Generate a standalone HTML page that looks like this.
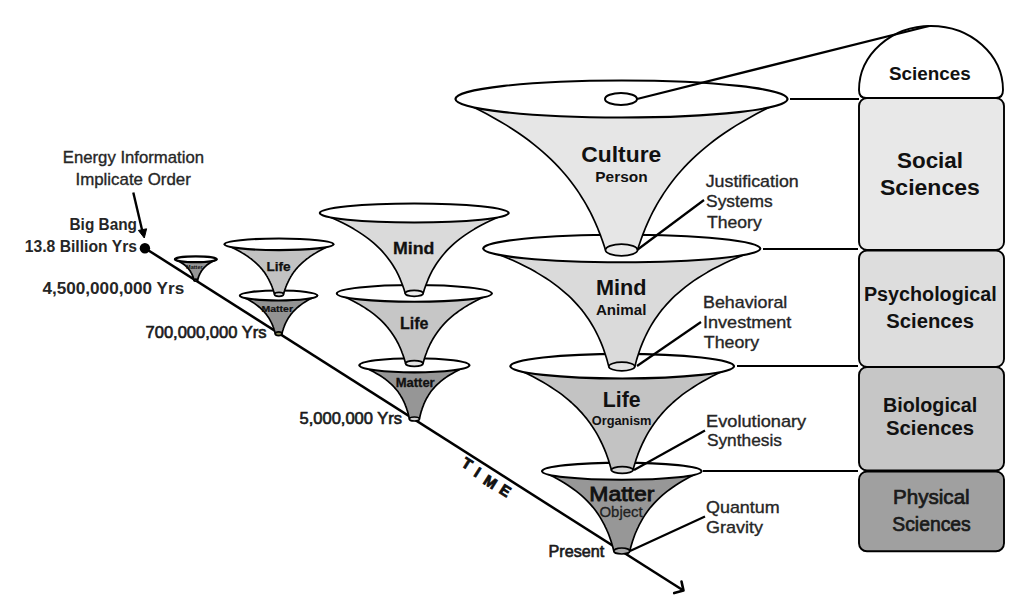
<!DOCTYPE html>
<html><head><meta charset="utf-8"><style>
html,body{margin:0;padding:0;background:#fff;width:1024px;height:604px;overflow:hidden}
svg{display:block;font-family:"Liberation Sans",sans-serif}
</style></head><body>
<svg width="1024" height="604" viewBox="0 0 1024 604">
<line x1="145" y1="248.2" x2="683" y2="590.3" stroke="#000" stroke-width="2.5"/>
<polyline points="674.2,593.1 683.5,590.6 681.5,581.5" fill="none" stroke="#000" stroke-width="2.6" stroke-linecap="round" stroke-linejoin="round"/>
<circle cx="144.9" cy="248.2" r="5.2" fill="#000"/>
<line x1="133.3" y1="192.5" x2="142.3" y2="231" stroke="#000" stroke-width="2.4"/>
<polygon points="138.4,230.4 144.3,238 146.6,228.8" fill="#000" stroke="#000" stroke-width="1" stroke-linejoin="round"/>
<path d="M174.9,259.3 L176.0,259.8 L177.1,260.3 L178.2,260.9 L179.1,261.4 L180.1,261.9 L180.9,262.4 L181.8,263.0 L182.5,263.5 L183.3,264.0 L184.0,264.5 L184.7,265.0 L185.3,265.6 L185.9,266.1 L186.4,266.6 L187.0,267.1 L187.5,267.7 L187.9,268.2 L188.4,268.7 L188.8,269.2 L189.2,269.8 L189.6,270.3 L190.0,270.8 L190.3,271.3 L190.6,271.8 L190.9,272.4 L191.2,272.9 L191.5,273.4 L191.8,273.9 L192.0,274.5 L192.3,275.0 L192.5,275.5 L192.7,276.0 L192.9,276.5 L193.1,277.1 L193.2,277.6 L193.4,278.1 L193.6,278.6 L193.7,279.2 L193.9,279.7 L194.0,280.2 L197.6,280.2 L197.7,279.7 L197.9,279.2 L198.0,278.6 L198.2,278.1 L198.4,277.6 L198.5,277.1 L198.7,276.5 L198.9,276.0 L199.1,275.5 L199.3,275.0 L199.6,274.5 L199.8,273.9 L200.1,273.4 L200.4,272.9 L200.7,272.4 L201.0,271.8 L201.3,271.3 L201.6,270.8 L202.0,270.3 L202.4,269.8 L202.8,269.2 L203.2,268.7 L203.7,268.2 L204.1,267.7 L204.6,267.1 L205.2,266.6 L205.7,266.1 L206.3,265.6 L206.9,265.0 L207.6,264.5 L208.3,264.0 L209.1,263.5 L209.8,263.0 L210.7,262.4 L211.5,261.9 L212.5,261.4 L213.4,260.9 L214.5,260.3 L215.6,259.8 L216.7,259.3 Z" fill="#959595" stroke="#000" stroke-width="1.76" stroke-linejoin="round"/>
<ellipse cx="195.8" cy="259.3" rx="20.9" ry="2.9" fill="#fff" stroke="#000" stroke-width="2.2"/>
<ellipse cx="195.8" cy="280.2" rx="1.8" ry="1" fill="#a0a0a0" stroke="#000" stroke-width="1.76"/>
<text x="186" y="269.4" font-size="6" font-weight="bold" fill="#111" textLength="16.7" lengthAdjust="spacingAndGlyphs">Matter</text>
<path d="M239.8,295.5 L241.9,296.5 L244.0,297.4 L245.9,298.4 L247.7,299.3 L249.4,300.3 L251.0,301.2 L252.6,302.2 L254.0,303.1 L255.4,304.1 L256.7,305.1 L257.9,306.0 L259.1,307.0 L260.2,307.9 L261.2,308.9 L262.2,309.8 L263.2,310.8 L264.1,311.7 L264.9,312.7 L265.7,313.6 L266.4,314.6 L267.1,315.6 L267.8,316.5 L268.5,317.5 L269.1,318.4 L269.6,319.4 L270.2,320.3 L270.7,321.3 L271.2,322.2 L271.6,323.2 L272.1,324.1 L272.5,325.1 L272.9,326.1 L273.2,327.0 L273.6,328.0 L273.9,328.9 L274.2,329.9 L274.5,330.8 L274.8,331.8 L275.0,332.7 L275.3,333.7 L281.9,333.7 L282.2,332.7 L282.4,331.8 L282.7,330.8 L283.0,329.9 L283.3,328.9 L283.6,328.0 L284.0,327.0 L284.3,326.1 L284.7,325.1 L285.1,324.1 L285.6,323.2 L286.0,322.2 L286.5,321.3 L287.0,320.3 L287.6,319.4 L288.1,318.4 L288.7,317.5 L289.4,316.5 L290.1,315.6 L290.8,314.6 L291.5,313.6 L292.3,312.7 L293.1,311.7 L294.0,310.8 L295.0,309.8 L296.0,308.9 L297.0,307.9 L298.1,307.0 L299.3,306.0 L300.5,305.1 L301.8,304.1 L303.2,303.1 L304.6,302.2 L306.2,301.2 L307.8,300.3 L309.5,299.3 L311.3,298.4 L313.2,297.4 L315.3,296.5 L317.4,295.5 Z" fill="#939393" stroke="#000" stroke-width="1.68" stroke-linejoin="round"/>
<ellipse cx="278.6" cy="295.5" rx="38.8" ry="5" fill="#fff" stroke="#000" stroke-width="2.1"/>
<ellipse cx="278.6" cy="333.7" rx="3.3" ry="1.9" fill="#8a8a5a" stroke="#000" stroke-width="1.68"/>
<text x="261.6" y="311.7" font-size="8.5" font-weight="bold" fill="#111" stroke="#111" stroke-width="0.2" textLength="31.4" lengthAdjust="spacingAndGlyphs">Matter</text>
<path d="M224.5,244.3 L227.5,245.6 L230.4,246.8 L233.1,248.1 L235.6,249.3 L238.0,250.6 L240.3,251.8 L242.5,253.1 L244.5,254.3 L246.5,255.6 L248.3,256.8 L250.0,258.1 L251.7,259.3 L253.2,260.6 L254.7,261.8 L256.1,263.1 L257.4,264.3 L258.7,265.6 L259.8,266.8 L261.0,268.1 L262.0,269.3 L263.0,270.6 L264.0,271.8 L264.9,273.1 L265.7,274.3 L266.5,275.6 L267.3,276.8 L268.0,278.1 L268.7,279.3 L269.3,280.6 L269.9,281.8 L270.5,283.1 L271.1,284.3 L271.6,285.6 L272.1,286.8 L272.5,288.1 L273.0,289.3 L273.4,290.6 L273.8,291.8 L274.1,293.1 L274.5,294.3 L283.5,294.3 L283.9,293.1 L284.2,291.8 L284.6,290.6 L285.0,289.3 L285.5,288.1 L285.9,286.8 L286.4,285.6 L286.9,284.3 L287.5,283.1 L288.1,281.8 L288.7,280.6 L289.3,279.3 L290.0,278.1 L290.7,276.8 L291.5,275.6 L292.3,274.3 L293.1,273.1 L294.0,271.8 L295.0,270.6 L296.0,269.3 L297.0,268.1 L298.2,266.8 L299.3,265.6 L300.6,264.3 L301.9,263.1 L303.3,261.8 L304.8,260.6 L306.3,259.3 L308.0,258.1 L309.7,256.8 L311.5,255.6 L313.5,254.3 L315.5,253.1 L317.7,251.8 L320.0,250.6 L322.4,249.3 L324.9,248.1 L327.6,246.8 L330.5,245.6 L333.5,244.3 Z" fill="#c2c2c2" stroke="#000" stroke-width="1.68" stroke-linejoin="round"/>
<ellipse cx="279" cy="244.3" rx="54.5" ry="5.8" fill="#fff" stroke="#000" stroke-width="2.1"/>
<ellipse cx="279" cy="294.3" rx="4.5" ry="2" fill="#dcdcdc" stroke="#000" stroke-width="1.68"/>
<text x="266.4" y="270.9" font-size="12.4" font-weight="bold" fill="#111" stroke="#111" stroke-width="0.25" textLength="24.2" lengthAdjust="spacingAndGlyphs">Life</text>
<path d="M359.4,365.3 L362.7,366.6 L365.8,368.0 L368.7,369.3 L371.4,370.7 L374.0,372.0 L376.4,373.4 L378.7,374.7 L380.8,376.0 L382.8,377.4 L384.7,378.7 L386.5,380.1 L388.1,381.4 L389.7,382.8 L391.2,384.1 L392.5,385.4 L393.8,386.8 L395.0,388.1 L396.2,389.5 L397.3,390.8 L398.3,392.1 L399.2,393.5 L400.1,394.8 L400.9,396.2 L401.7,397.5 L402.5,398.9 L403.1,400.2 L403.8,401.5 L404.4,402.9 L405.0,404.2 L405.5,405.6 L406.0,406.9 L406.5,408.3 L406.9,409.6 L407.4,410.9 L407.8,412.3 L408.1,413.6 L408.5,415.0 L408.8,416.3 L409.1,417.7 L409.4,419.0 L419.4,419.0 L419.7,417.7 L420.0,416.3 L420.3,415.0 L420.7,413.6 L421.0,412.3 L421.4,410.9 L421.9,409.6 L422.3,408.3 L422.8,406.9 L423.3,405.6 L423.8,404.2 L424.4,402.9 L425.0,401.5 L425.7,400.2 L426.3,398.9 L427.1,397.5 L427.9,396.2 L428.7,394.8 L429.6,393.5 L430.5,392.1 L431.5,390.8 L432.6,389.5 L433.8,388.1 L435.0,386.8 L436.3,385.4 L437.6,384.1 L439.1,382.8 L440.7,381.4 L442.3,380.1 L444.1,378.7 L446.0,377.4 L448.0,376.0 L450.1,374.7 L452.4,373.4 L454.8,372.0 L457.4,370.7 L460.1,369.3 L463.0,368.0 L466.1,366.6 L469.4,365.3 Z" fill="#969696" stroke="#000" stroke-width="1.68" stroke-linejoin="round"/>
<ellipse cx="414.4" cy="365.3" rx="55" ry="7.1" fill="#fff" stroke="#000" stroke-width="2.1"/>
<ellipse cx="414.4" cy="419" rx="5" ry="2" fill="#d0d0d0" stroke="#000" stroke-width="1.68"/>
<text x="395.7" y="387.4" font-size="12.3" font-weight="bold" fill="#111" stroke="#111" stroke-width="0.3" textLength="39" lengthAdjust="spacingAndGlyphs">Matter</text>
<path d="M336.8,293.4 L340.9,295.2 L344.9,296.9 L348.6,298.7 L352.1,300.4 L355.4,302.2 L358.5,303.9 L361.5,305.7 L364.3,307.4 L367.0,309.2 L369.5,310.9 L371.9,312.7 L374.2,314.4 L376.3,316.2 L378.3,317.9 L380.3,319.7 L382.1,321.4 L383.8,323.2 L385.4,324.9 L387.0,326.7 L388.4,328.4 L389.8,330.2 L391.1,332.0 L392.3,333.7 L393.5,335.5 L394.6,337.2 L395.7,339.0 L396.6,340.7 L397.6,342.5 L398.5,344.2 L399.3,346.0 L400.1,347.7 L400.9,349.5 L401.6,351.2 L402.2,353.0 L402.9,354.7 L403.5,356.5 L404.1,358.2 L404.6,360.0 L405.1,361.7 L405.6,363.5 L423.0,363.5 L423.5,361.7 L424.0,360.0 L424.5,358.2 L425.1,356.5 L425.7,354.7 L426.4,353.0 L427.0,351.2 L427.7,349.5 L428.5,347.7 L429.3,346.0 L430.1,344.2 L431.0,342.5 L432.0,340.7 L432.9,339.0 L434.0,337.2 L435.1,335.5 L436.3,333.7 L437.5,332.0 L438.8,330.2 L440.2,328.4 L441.6,326.7 L443.2,324.9 L444.8,323.2 L446.5,321.4 L448.3,319.7 L450.3,317.9 L452.3,316.2 L454.4,314.4 L456.7,312.7 L459.1,310.9 L461.6,309.2 L464.3,307.4 L467.1,305.7 L470.1,303.9 L473.2,302.2 L476.5,300.4 L480.0,298.7 L483.7,296.9 L487.7,295.2 L491.8,293.4 Z" fill="#c6c6c6" stroke="#000" stroke-width="1.68" stroke-linejoin="round"/>
<ellipse cx="414.3" cy="293.4" rx="77.5" ry="8.4" fill="#fff" stroke="#000" stroke-width="2.1"/>
<ellipse cx="414.3" cy="363.5" rx="8.7" ry="2.9" fill="#e4e4e4" stroke="#000" stroke-width="1.68"/>
<text x="400" y="329" font-size="16.5" font-weight="bold" fill="#111" stroke="#111" stroke-width="0.3" textLength="28.5" lengthAdjust="spacingAndGlyphs">Life</text>
<path d="M319.8,213.0 L324.9,215.0 L329.8,217.0 L334.4,219.0 L338.8,221.0 L342.9,223.0 L346.8,225.0 L350.5,227.1 L354.0,229.1 L357.3,231.1 L360.4,233.1 L363.4,235.1 L366.2,237.1 L368.9,239.1 L371.4,241.1 L373.8,243.1 L376.0,245.1 L378.1,247.1 L380.2,249.1 L382.1,251.1 L383.9,253.2 L385.6,255.2 L387.2,257.2 L388.7,259.2 L390.2,261.2 L391.6,263.2 L392.9,265.2 L394.1,267.2 L395.3,269.2 L396.4,271.2 L397.4,273.2 L398.4,275.2 L399.3,277.2 L400.2,279.2 L401.0,281.3 L401.8,283.3 L402.6,285.3 L403.3,287.3 L404.0,289.3 L404.6,291.3 L405.2,293.3 L423.2,293.3 L423.8,291.3 L424.4,289.3 L425.1,287.3 L425.8,285.3 L426.6,283.3 L427.4,281.3 L428.2,279.2 L429.1,277.2 L430.0,275.2 L431.0,273.2 L432.0,271.2 L433.1,269.2 L434.3,267.2 L435.5,265.2 L436.8,263.2 L438.2,261.2 L439.7,259.2 L441.2,257.2 L442.8,255.2 L444.5,253.2 L446.3,251.1 L448.2,249.1 L450.3,247.1 L452.4,245.1 L454.6,243.1 L457.0,241.1 L459.5,239.1 L462.2,237.1 L465.0,235.1 L468.0,233.1 L471.1,231.1 L474.4,229.1 L477.9,227.1 L481.6,225.0 L485.5,223.0 L489.6,221.0 L494.0,219.0 L498.6,217.0 L503.5,215.0 L508.6,213.0 Z" fill="#dadada" stroke="#000" stroke-width="1.68" stroke-linejoin="round"/>
<ellipse cx="414.2" cy="213" rx="94.4" ry="9.5" fill="#fff" stroke="#000" stroke-width="2.1"/>
<ellipse cx="414.2" cy="293.3" rx="9" ry="3" fill="#ececec" stroke="#000" stroke-width="1.68"/>
<text x="393" y="254.2" font-size="16.8" font-weight="bold" fill="#111" stroke="#111" stroke-width="0.3" textLength="41.4" lengthAdjust="spacingAndGlyphs">Mind</text>
<path d="M542.1,471.2 L546.4,473.2 L550.5,475.2 L554.4,477.2 L558.0,479.2 L561.5,481.2 L564.8,483.2 L567.9,485.2 L570.8,487.2 L573.6,489.2 L576.2,491.1 L578.7,493.1 L581.1,495.1 L583.3,497.1 L585.4,499.1 L587.4,501.1 L589.3,503.1 L591.1,505.1 L592.8,507.1 L594.4,509.1 L595.9,511.1 L597.3,513.1 L598.7,515.1 L600.0,517.1 L601.2,519.1 L602.3,521.1 L603.4,523.1 L604.5,525.1 L605.4,527.1 L606.4,529.1 L607.2,531.0 L608.1,533.0 L608.9,535.0 L609.6,537.0 L610.3,539.0 L611.0,541.0 L611.6,543.0 L612.2,545.0 L612.8,547.0 L613.3,549.0 L613.8,551.0 L629.8,551.0 L630.3,549.0 L630.8,547.0 L631.4,545.0 L632.0,543.0 L632.6,541.0 L633.3,539.0 L634.0,537.0 L634.7,535.0 L635.5,533.0 L636.4,531.0 L637.2,529.1 L638.2,527.1 L639.1,525.1 L640.2,523.1 L641.3,521.1 L642.4,519.1 L643.6,517.1 L644.9,515.1 L646.3,513.1 L647.7,511.1 L649.2,509.1 L650.8,507.1 L652.5,505.1 L654.3,503.1 L656.2,501.1 L658.2,499.1 L660.3,497.1 L662.5,495.1 L664.9,493.1 L667.4,491.1 L670.0,489.2 L672.8,487.2 L675.7,485.2 L678.8,483.2 L682.1,481.2 L685.6,479.2 L689.2,477.2 L693.1,475.2 L697.2,473.2 L701.5,471.2 Z" fill="#979797" stroke="#000" stroke-width="1.68" stroke-linejoin="round"/>
<ellipse cx="621.8" cy="471.2" rx="79.7" ry="8.6" fill="#fff" stroke="#000" stroke-width="2.1"/>
<ellipse cx="621.8" cy="551" rx="8" ry="3" fill="#a8a8a8" stroke="#000" stroke-width="1.68"/>
<path d="M510.4,366.2 L516.5,368.8 L522.2,371.4 L527.7,374.0 L532.8,376.6 L537.7,379.2 L542.3,381.8 L546.7,384.4 L550.8,387.0 L554.7,389.6 L558.5,392.1 L562.0,394.7 L565.3,397.3 L568.4,399.9 L571.4,402.5 L574.2,405.1 L576.9,407.7 L579.4,410.3 L581.8,412.9 L584.0,415.5 L586.2,418.1 L588.2,420.7 L590.1,423.3 L591.9,425.9 L593.6,428.5 L595.3,431.1 L596.8,433.7 L598.3,436.3 L599.6,438.9 L600.9,441.5 L602.2,444.1 L603.3,446.6 L604.4,449.2 L605.5,451.8 L606.5,454.4 L607.4,457.0 L608.3,459.6 L609.1,462.2 L609.9,464.8 L610.7,467.4 L611.4,470.0 L633.0,470.0 L633.7,467.4 L634.5,464.8 L635.3,462.2 L636.1,459.6 L637.0,457.0 L637.9,454.4 L638.9,451.8 L640.0,449.2 L641.1,446.6 L642.2,444.1 L643.5,441.5 L644.8,438.9 L646.1,436.3 L647.6,433.7 L649.1,431.1 L650.8,428.5 L652.5,425.9 L654.3,423.3 L656.2,420.7 L658.2,418.1 L660.4,415.5 L662.6,412.9 L665.0,410.3 L667.5,407.7 L670.2,405.1 L673.0,402.5 L676.0,399.9 L679.1,397.3 L682.4,394.7 L685.9,392.1 L689.7,389.6 L693.6,387.0 L697.7,384.4 L702.1,381.8 L706.7,379.2 L711.6,376.6 L716.7,374.0 L722.2,371.4 L727.9,368.8 L734.0,366.2 Z" fill="#c3c3c3" stroke="#000" stroke-width="1.68" stroke-linejoin="round"/>
<ellipse cx="622.2" cy="366.2" rx="111.8" ry="12.3" fill="#fff" stroke="#000" stroke-width="2.1"/>
<ellipse cx="622.2" cy="470" rx="10.8" ry="3.3" fill="#d6d6d6" stroke="#000" stroke-width="1.68"/>
<path d="M483.3,248.5 L491.3,251.4 L498.9,254.4 L506.0,257.4 L512.7,260.3 L519.1,263.2 L525.0,266.2 L530.6,269.1 L535.9,272.1 L540.9,275.1 L545.6,278.0 L550.0,280.9 L554.1,283.9 L558.1,286.9 L561.7,289.8 L565.2,292.8 L568.5,295.7 L571.6,298.6 L574.4,301.6 L577.2,304.6 L579.7,307.5 L582.2,310.4 L584.5,313.4 L586.6,316.4 L588.6,319.3 L590.5,322.2 L592.3,325.2 L594.0,328.1 L595.6,331.1 L597.1,334.1 L598.5,337.0 L599.8,339.9 L601.1,342.9 L602.3,345.9 L603.4,348.8 L604.4,351.8 L605.4,354.7 L606.3,357.6 L607.2,360.6 L608.0,363.6 L608.8,366.5 L634.8,366.5 L635.6,363.6 L636.4,360.6 L637.3,357.6 L638.2,354.7 L639.2,351.8 L640.2,348.8 L641.3,345.9 L642.5,342.9 L643.8,339.9 L645.1,337.0 L646.5,334.1 L648.0,331.1 L649.6,328.1 L651.3,325.2 L653.1,322.2 L655.0,319.3 L657.0,316.4 L659.1,313.4 L661.4,310.4 L663.9,307.5 L666.4,304.6 L669.2,301.6 L672.0,298.6 L675.1,295.7 L678.4,292.8 L681.9,289.8 L685.5,286.9 L689.5,283.9 L693.6,280.9 L698.0,278.0 L702.7,275.1 L707.7,272.1 L713.0,269.1 L718.6,266.2 L724.5,263.2 L730.9,260.3 L737.6,257.4 L744.7,254.4 L752.3,251.4 L760.3,248.5 Z" fill="#dadada" stroke="#000" stroke-width="1.68" stroke-linejoin="round"/>
<ellipse cx="621.8" cy="248.5" rx="138.5" ry="13.8" fill="#fff" stroke="#000" stroke-width="2.1"/>
<ellipse cx="621.8" cy="366.5" rx="13" ry="4.3" fill="#e4e4e4" stroke="#000" stroke-width="1.68"/>
<path d="M455.5,99.0 L464.0,102.8 L472.0,106.5 L479.7,110.3 L486.9,114.1 L493.9,117.9 L500.5,121.7 L506.7,125.4 L512.7,129.2 L518.4,133.0 L523.8,136.8 L528.9,140.5 L533.8,144.3 L538.4,148.1 L542.8,151.8 L547.0,155.6 L551.0,159.4 L554.8,163.2 L558.4,166.9 L561.9,170.7 L565.2,174.5 L568.3,178.3 L571.2,182.1 L574.0,185.8 L576.7,189.6 L579.3,193.4 L581.7,197.2 L584.0,200.9 L586.2,204.7 L588.3,208.5 L590.3,212.2 L592.2,216.0 L594.0,219.8 L595.7,223.6 L597.3,227.3 L598.8,231.1 L600.3,234.9 L601.7,238.7 L603.0,242.4 L604.3,246.2 L605.5,250.0 L637.5,250.0 L638.7,246.2 L640.0,242.4 L641.3,238.7 L642.7,234.9 L644.2,231.1 L645.7,227.3 L647.3,223.6 L649.0,219.8 L650.8,216.0 L652.7,212.2 L654.7,208.5 L656.8,204.7 L659.0,200.9 L661.3,197.2 L663.7,193.4 L666.3,189.6 L669.0,185.8 L671.8,182.1 L674.7,178.3 L677.8,174.5 L681.1,170.7 L684.6,166.9 L688.2,163.2 L692.0,159.4 L696.0,155.6 L700.2,151.8 L704.6,148.1 L709.2,144.3 L714.1,140.5 L719.2,136.8 L724.6,133.0 L730.3,129.2 L736.3,125.4 L742.5,121.7 L749.1,117.9 L756.1,114.1 L763.3,110.3 L771.0,106.5 L779.0,102.8 L787.5,99.0 Z" fill="#e6e6e6" stroke="#000" stroke-width="1.68" stroke-linejoin="round"/>
<ellipse cx="621.5" cy="99" rx="166" ry="18.5" fill="#fff" stroke="#000" stroke-width="2.1"/>
<ellipse cx="621.5" cy="250" rx="16" ry="5.8" fill="#ebebeb" stroke="#000" stroke-width="1.68"/>
<ellipse cx="621" cy="99" rx="16" ry="6" fill="#fff" stroke="#000" stroke-width="2"/>
<text x="581.3" y="162.4" font-size="22.2" font-weight="bold" fill="#111" textLength="80" lengthAdjust="spacingAndGlyphs">Culture</text>
<text x="595.3" y="182.3" font-size="14" font-weight="bold" fill="#111" textLength="52.3" lengthAdjust="spacingAndGlyphs">Person</text>
<text x="595.9" y="295.3" font-size="22.2" font-weight="bold" fill="#111" textLength="50.5" lengthAdjust="spacingAndGlyphs">Mind</text>
<text x="595.9" y="315.2" font-size="15" font-weight="bold" fill="#111" textLength="50.5" lengthAdjust="spacingAndGlyphs">Animal</text>
<text x="602.8" y="407.3" font-size="22.2" font-weight="bold" fill="#111" textLength="37.8" lengthAdjust="spacingAndGlyphs">Life</text>
<text x="591.7" y="425.2" font-size="12" font-weight="bold" fill="#111" textLength="59.8" lengthAdjust="spacingAndGlyphs">Organism</text>
<text x="589.3" y="501" font-size="19.5" font-weight="normal" fill="#111" stroke="#111" stroke-width="0.8" textLength="65.1" lengthAdjust="spacingAndGlyphs">Matter</text>
<text x="599.5" y="517.3" font-size="15" font-weight="normal" fill="#222" stroke="#222" stroke-width="0.3" textLength="43.2" lengthAdjust="spacingAndGlyphs">Object</text>
<path d="M866,98 Q859,98 859,90 A72,64 0 0 1 1003,90 Q1003,98 996,98 Z" fill="#fff" stroke="#000" stroke-width="1.9"/>
<rect x="859" y="98" width="145" height="152" rx="8" ry="8" fill="#e8e8e8" stroke="#000" stroke-width="1.9"/>
<rect x="859" y="250.5" width="145" height="116.5" rx="8" ry="8" fill="#dddddd" stroke="#000" stroke-width="1.9"/>
<rect x="859" y="367" width="145" height="103.5" rx="8" ry="8" fill="#c6c6c6" stroke="#000" stroke-width="1.9"/>
<rect x="859" y="471.5" width="145" height="79.8" rx="8" ry="8" fill="#a0a0a0" stroke="#000" stroke-width="1.9"/>
<line x1="637" y1="99" x2="929" y2="26" stroke="#000" stroke-width="2.2"/>
<line x1="637" y1="250" x2="704" y2="200" stroke="#000" stroke-width="2.2"/>
<line x1="637" y1="366" x2="701" y2="322" stroke="#000" stroke-width="2.2"/>
<line x1="634" y1="470" x2="705" y2="430.5" stroke="#000" stroke-width="2.2"/>
<line x1="630" y1="551" x2="705" y2="516.6" stroke="#000" stroke-width="2.2"/>
<line x1="790" y1="99" x2="859" y2="99" stroke="#000" stroke-width="2.2"/>
<line x1="763" y1="249" x2="858" y2="249" stroke="#000" stroke-width="2.2"/>
<line x1="737" y1="366" x2="858" y2="366" stroke="#000" stroke-width="2.2"/>
<line x1="703" y1="471" x2="858" y2="471" stroke="#000" stroke-width="2.2"/>
<text x="889" y="80" font-size="17.5" font-weight="bold" fill="#111" textLength="81.8" lengthAdjust="spacingAndGlyphs">Sciences</text>
<text x="897" y="167.7" font-size="22" font-weight="bold" fill="#111" textLength="66" lengthAdjust="spacingAndGlyphs">Social</text>
<text x="880" y="194.7" font-size="22" font-weight="bold" fill="#111" textLength="99.8" lengthAdjust="spacingAndGlyphs">Sciences</text>
<text x="863.9" y="301.4" font-size="19.5" font-weight="bold" fill="#111" textLength="132.8" lengthAdjust="spacingAndGlyphs">Psychological</text>
<text x="886.3" y="327.6" font-size="19.5" font-weight="bold" fill="#111" textLength="87.7" lengthAdjust="spacingAndGlyphs">Sciences</text>
<text x="883" y="412.3" font-size="19.5" font-weight="bold" fill="#111" textLength="94.3" lengthAdjust="spacingAndGlyphs">Biological</text>
<text x="886" y="435.4" font-size="19.5" font-weight="bold" fill="#111" textLength="88" lengthAdjust="spacingAndGlyphs">Sciences</text>
<text x="893" y="504" font-size="20" font-weight="normal" fill="#1a1a1a" stroke="#1a1a1a" stroke-width="0.7" textLength="76.7" lengthAdjust="spacingAndGlyphs">Physical</text>
<text x="892.3" y="531" font-size="20" font-weight="normal" fill="#1a1a1a" stroke="#1a1a1a" stroke-width="0.7" textLength="78.4" lengthAdjust="spacingAndGlyphs">Sciences</text>
<text x="62.8" y="162.5" font-size="17" font-weight="normal" fill="#262626" stroke="#262626" stroke-width="0.35" textLength="141.2" lengthAdjust="spacingAndGlyphs">Energy Information</text>
<text x="75.5" y="184.5" font-size="17" font-weight="normal" fill="#262626" stroke="#262626" stroke-width="0.35" textLength="115.3" lengthAdjust="spacingAndGlyphs">Implicate Order</text>
<text x="69.5" y="229.8" font-size="16.3" font-weight="bold" fill="#262626" textLength="67.5" lengthAdjust="spacingAndGlyphs">Big Bang</text>
<text x="24.8" y="251.8" font-size="15.8" font-weight="bold" fill="#262626" textLength="112.2" lengthAdjust="spacingAndGlyphs">13.8 Billion Yrs</text>
<text x="42.4" y="293.7" font-size="16.8" font-weight="bold" fill="#262626" textLength="141.8" lengthAdjust="spacingAndGlyphs">4,500,000,000 Yrs</text>
<text x="145.5" y="337.5" font-size="16.3" font-weight="normal" fill="#1a1a1a" stroke="#1a1a1a" stroke-width="0.65" textLength="121" lengthAdjust="spacingAndGlyphs">700,000,000 Yrs</text>
<text x="299.5" y="424.2" font-size="16.3" font-weight="normal" fill="#1a1a1a" stroke="#1a1a1a" stroke-width="0.65" textLength="102.5" lengthAdjust="spacingAndGlyphs">5,000,000 Yrs</text>
<text x="548.5" y="556.7" font-size="16" font-weight="normal" fill="#1a1a1a" stroke="#1a1a1a" stroke-width="0.65" textLength="55.7" lengthAdjust="spacingAndGlyphs">Present</text>
<text x="705.7" y="186.9" font-size="17" font-weight="normal" fill="#262626" stroke="#262626" stroke-width="0.35" textLength="93" lengthAdjust="spacingAndGlyphs">Justification</text>
<text x="706.1" y="206.7" font-size="17" font-weight="normal" fill="#262626" stroke="#262626" stroke-width="0.35" textLength="66.6" lengthAdjust="spacingAndGlyphs">Systems</text>
<text x="707" y="227.9" font-size="17" font-weight="normal" fill="#262626" stroke="#262626" stroke-width="0.35" textLength="54.8" lengthAdjust="spacingAndGlyphs">Theory</text>
<text x="703" y="307.5" font-size="17" font-weight="normal" fill="#262626" stroke="#262626" stroke-width="0.35" textLength="84.3" lengthAdjust="spacingAndGlyphs">Behavioral</text>
<text x="703" y="327.7" font-size="17" font-weight="normal" fill="#262626" stroke="#262626" stroke-width="0.35" textLength="88.4" lengthAdjust="spacingAndGlyphs">Investment</text>
<text x="703.8" y="348" font-size="17" font-weight="normal" fill="#262626" stroke="#262626" stroke-width="0.35" textLength="55.4" lengthAdjust="spacingAndGlyphs">Theory</text>
<text x="706.1" y="427" font-size="17" font-weight="normal" fill="#262626" stroke="#262626" stroke-width="0.35" textLength="100.1" lengthAdjust="spacingAndGlyphs">Evolutionary</text>
<text x="706.9" y="446.4" font-size="17" font-weight="normal" fill="#262626" stroke="#262626" stroke-width="0.35" textLength="75.1" lengthAdjust="spacingAndGlyphs">Synthesis</text>
<text x="706" y="512.6" font-size="17" font-weight="normal" fill="#262626" stroke="#262626" stroke-width="0.35" textLength="73.7" lengthAdjust="spacingAndGlyphs">Quantum</text>
<text x="706" y="532.5" font-size="17" font-weight="normal" fill="#262626" stroke="#262626" stroke-width="0.35" textLength="57" lengthAdjust="spacingAndGlyphs">Gravity</text>
<text x="467.4" y="463.4" font-size="15" font-weight="bold" fill="#111" stroke="#111" stroke-width="0.9" text-anchor="middle" dominant-baseline="central" transform="rotate(32.4 467.4 463.4)">T</text>
<text x="477.6" y="471.9" font-size="15" font-weight="bold" fill="#111" stroke="#111" stroke-width="0.9" text-anchor="middle" dominant-baseline="central" transform="rotate(32.4 477.6 471.9)">I</text>
<text x="490.6" y="481.6" font-size="15" font-weight="bold" fill="#111" stroke="#111" stroke-width="0.9" text-anchor="middle" dominant-baseline="central" transform="rotate(32.4 490.6 481.6)">M</text>
<text x="505.5" y="490.4" font-size="15" font-weight="bold" fill="#111" stroke="#111" stroke-width="0.9" text-anchor="middle" dominant-baseline="central" transform="rotate(32.4 505.5 490.4)">E</text>
</svg>
</body></html>
